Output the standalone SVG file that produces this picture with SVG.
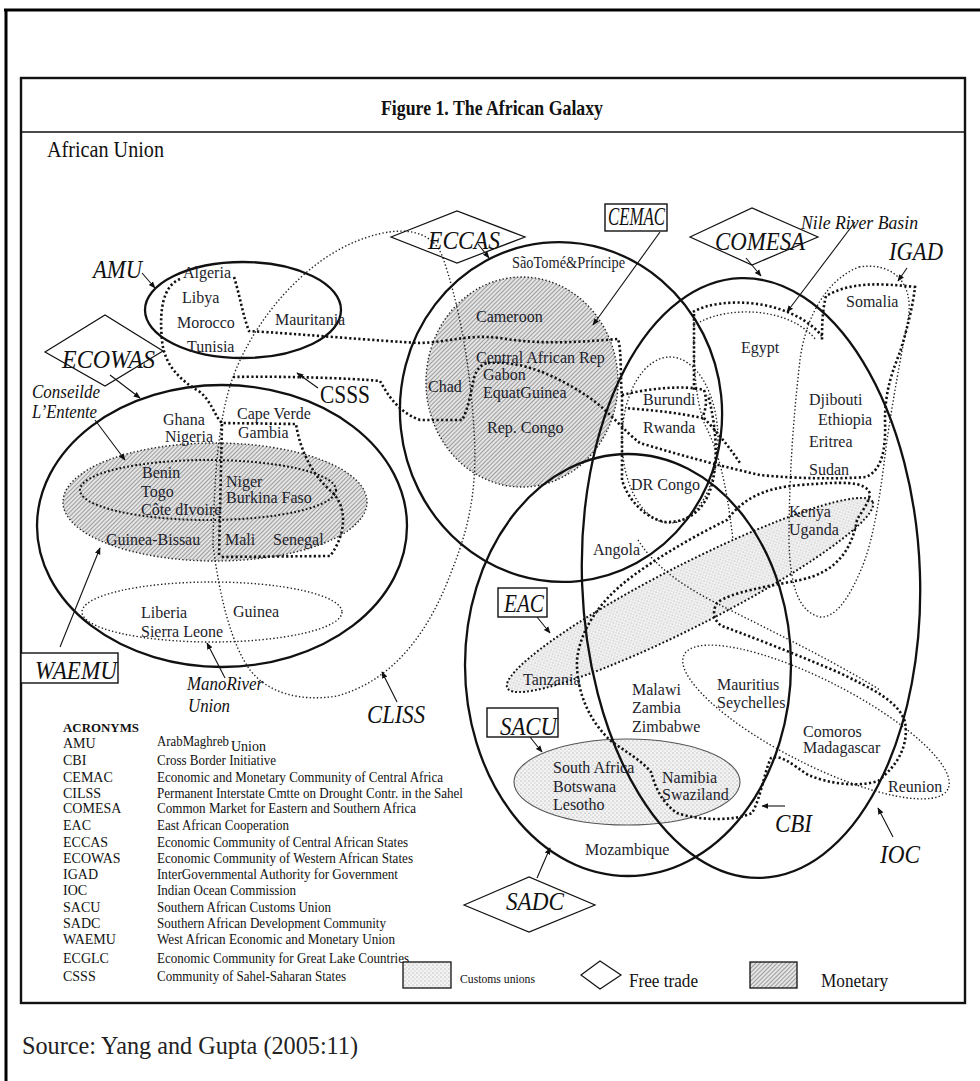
<svg xmlns="http://www.w3.org/2000/svg" width="980" height="1081" viewBox="0 0 980 1081">
<defs>
<pattern id="hatch" width="3" height="3" patternUnits="userSpaceOnUse" patternTransform="rotate(45)">
<rect width="3" height="3" fill="#e4e4e4"/>
<line x1="0.5" y1="0" x2="0.5" y2="3" stroke="#858585" stroke-width="0.75"/>
</pattern>
<pattern id="dots" width="4" height="4" patternUnits="userSpaceOnUse">
<rect width="4" height="4" fill="#f3f3f3"/>
<circle cx="1" cy="1" r="0.55" fill="#8a8a8a"/>
<circle cx="3" cy="3" r="0.5" fill="#a8a8a8"/>
</pattern>
<marker id="ah" viewBox="0 0 10 10" refX="9" refY="5" markerWidth="7" markerHeight="7" orient="auto" markerUnits="userSpaceOnUse">
<path d="M0,1 L10,5 L0,9 z" fill="#111"/>
</marker>
</defs>
<style>
.solid{fill:none;stroke:#111;stroke-width:2.3}
.td{fill:none;stroke:#111;stroke-width:2.6;stroke-dasharray:2.2 2.4}
.tm{fill:none;stroke:#111;stroke-width:2;stroke-dasharray:1.8 2.2}
.tn{fill:none;stroke:#222;stroke-width:1.4;stroke-dasharray:1.4 2.2}
.zb{stroke:#222;stroke-width:1.4;stroke-dasharray:1.4 2.2}
.zm{stroke:#111;stroke-width:2;stroke-dasharray:1.8 2.2}
.ar{fill:none;stroke:#111;stroke-width:1.1;marker-end:url(#ah)}
.dia{fill:none;stroke:#111;stroke-width:1.2}
.box{fill:#fff;stroke:#111;stroke-width:1.4}
.c{font-family:"Liberation Serif","Times New Roman",serif;font-size:16px;fill:#1d1d2b}
.i{font-family:"Liberation Serif","Times New Roman",serif;font-style:italic;font-size:25px;fill:#111}
.is{font-family:"Liberation Serif","Times New Roman",serif;font-style:italic;font-size:18px;fill:#111}
.n{font-family:"Liberation Serif","Times New Roman",serif;font-size:25px;fill:#111}
.lg{font-family:"Liberation Serif","Times New Roman",serif;font-size:14px;fill:#111}
.lgs{font-family:"Liberation Serif","Times New Roman",serif;font-size:18px;fill:#111}
</style>

<g id="page-frame">
<line x1="4" y1="10" x2="980" y2="10" stroke="#000" stroke-width="3"/>
<line x1="6" y1="9" x2="6" y2="1081" stroke="#000" stroke-width="3"/>
<rect x="21" y="78" width="944" height="925" fill="none" stroke="#111" stroke-width="2.4"/>
<line x1="21" y1="132" x2="965" y2="132" stroke="#111" stroke-width="1.6"/>
<text x="381" y="115" font-family="Liberation Serif, serif" font-weight="bold" font-size="21" textLength="222" lengthAdjust="spacingAndGlyphs" fill="#111">Figure 1. The African Galaxy</text>
<text x="47" y="157" font-family="Liberation Serif, serif" font-size="24" textLength="117" lengthAdjust="spacingAndGlyphs" fill="#111">African Union</text>
</g>

<g id="shaded-zones">
<ellipse id="waemu-zone" cx="215" cy="502" rx="152" ry="59" fill="url(#hatch)" class="zb"/>
<ellipse id="cemac-zone" cx="522" cy="382" rx="96" ry="105" fill="url(#hatch)" class="zb"/>
<ellipse id="eac-zone" cx="690" cy="595" rx="205" ry="31" transform="rotate(-27 690 595)" fill="url(#dots)" class="zm"/>
<ellipse id="sacu-zone" cx="627" cy="782" rx="113" ry="43" fill="url(#dots)" stroke="#555" stroke-width="1.1"/>
</g>

<g id="groups-solid">
<ellipse id="amu" cx="243" cy="310" rx="98" ry="48" class="solid"/>
<ellipse id="ecowas" cx="222" cy="526" rx="185" ry="141" class="solid"/>
<ellipse id="eccas" cx="561" cy="412" rx="161" ry="170" transform="rotate(-6 561 412)" class="solid"/>
<ellipse id="comesa" cx="751" cy="578" rx="169" ry="300" transform="rotate(-2 751 578)" class="solid"/>
<ellipse id="sadc" cx="628" cy="665" rx="163" ry="211" class="solid"/>
</g>

<g id="connectors">
<path id="cliss" class="tn" d="M213,545 C214,480 218,420 232,380 C250,328 300,260 365,238 C400,226 432,228 443,258 C457,298 470,360 474,430 C478,490 468,530 452,570 C430,630 395,680 337,696 C300,702 268,693 250,670 C232,645 220,600 213,545 Z"/>
<ellipse id="mano" cx="212" cy="612" rx="130" ry="30" class="tn"/>
<ellipse id="entente" cx="208" cy="490" rx="128" ry="30" class="tm"/>
<ellipse id="ecglc-thin" cx="670" cy="440" rx="48" ry="83" class="tn"/>
<path id="igad-thin" class="tn" d="M859,267 C890,262 915,280 908,320 C900,360 893,400 887,440 C882,480 875,540 860,572 C848,600 835,618 820,617 C800,612 790,590 789,540 C789,480 793,420 800,360 C805,320 825,280 859,267 Z"/>
<path id="nile-thin" class="tn" d="M700,322 C730,306 790,307 816,340 M694,322 C693,360 695,400 705,425 C718,450 726,480 733,540"/>
<ellipse id="ioc" cx="816" cy="722" rx="148" ry="42" transform="rotate(27 816 722)" class="tn"/>
<path id="angola-thin" class="tn" d="M638,540 C660,575 700,595 730,610 C790,640 840,665 880,690"/>
<path id="csss-west" class="td" d="M180,279 C163,286 159,310 162,340 C164,365 180,380 200,392 C212,402 214,415 222,423 L296,424 C300,450 312,475 332,492 C348,508 346,535 330,556 L220,557"/>
<path id="csss-vert" class="td" d="M222,424 L219,557"/>
<path id="csss-north" class="td" d="M234,277 C240,296 243,316 249,331 C300,334 380,341 420,343 C450,342 468,334 500,338 C540,345 580,342 618,339 C622,352 620,380 622,395"/>
<path id="csss-south" class="td" d="M233,377 C280,376 350,378 380,381 C388,395 398,412 420,420 L462,420 C468,410 471,392 474,378 C477,368 482,364 488,363"/>
<path id="csss-east" class="td" d="M488,363 C525,360 560,378 590,398 C610,412 625,432 640,443 C680,455 720,466 760,475 C800,479 840,479 866,477 C882,470 886,450 885,420 C885,390 893,370 900,352 C907,330 913,305 915,287 C880,283 850,282 826,296 C822,312 822,328 822,340"/>
<path id="nile" class="td" d="M693,312 C720,296 790,298 822,336 M694,314 L694,390"/>
<path id="ecglc" class="td" d="M622,395 C650,388 685,385 704,390 C708,402 705,412 702,418 C675,412 648,410 625,408 M622,395 L622,480 C628,500 645,518 665,522 C690,523 707,508 713,480 C718,455 716,425 708,395 M704,418 C715,430 728,445 740,463"/>
<path id="cbi" class="td" d="M857,520 C852,548 838,572 800,580 C770,586 730,592 717,603 C711,613 715,622 722,626 C760,640 800,656 840,673 C870,688 898,700 905,722 C909,745 898,765 878,781 C855,788 828,783 808,775 C792,764 780,754 771,758 C764,772 761,798 752,813 C735,821 700,821 677,813 C661,802 655,786 651,772 C641,760 626,752 611,741 C590,722 576,692 577,660 C580,630 600,602 625,582 C650,562 690,538 727,520 C742,500 762,488 800,485 C840,482 866,480 870,494 C868,505 861,512 857,520 Z"/>
<path class="ar" d="M142,273 L155,288"/>
<path class="ar" d="M110,375 L140,398"/>
<path class="ar" d="M95,420 L125,460"/>
<path class="ar" d="M318,388 L297,373"/>
<path class="ar" d="M60,647 L100,548"/>
<path class="ar" d="M225,678 L207,643"/>
<path class="ar" d="M397,702 L382,672"/>
<path class="ar" d="M478,244 L489,258"/>
<path class="ar" d="M660,232 L593,325"/>
<path class="ar" d="M746,258 L761,276"/>
<path class="ar" d="M855,222 L787,312"/>
<path class="ar" d="M907,268 L898,281"/>
<path class="ar" d="M537,617 L550,633"/>
<path class="ar" d="M530,737 L542,752"/>
<path class="ar" d="M537,878 L550,848"/>
<path class="ar" d="M785,806 L762,806"/>
<path class="ar" d="M893,837 L878,808"/>
</g>

<g id="label-amu"><text class="i" x="93" y="278" textLength="49" lengthAdjust="spacingAndGlyphs">AMU</text></g>
<g id="label-ecowas"><polygon class="dia" points="45,352 105,315 163,351 105,386"/><text class="i" x="62" y="368" font-size="26" textLength="93" lengthAdjust="spacingAndGlyphs">ECOWAS</text></g>
<g id="label-conseil"><text class="is" x="32" y="398" textLength="68" lengthAdjust="spacingAndGlyphs">Conseilde</text><text class="is" x="32" y="418" textLength="65" lengthAdjust="spacingAndGlyphs">L’Entente</text></g>
<g id="label-csss"><text class="n" x="320" y="403" textLength="50" lengthAdjust="spacingAndGlyphs">CSSS</text></g>
<g id="label-waemu"><rect class="box" x="21" y="653" width="97" height="30"/><text class="i" x="35" y="679" font-size="26" textLength="82" lengthAdjust="spacingAndGlyphs">WAEMU</text></g>
<g id="label-mano"><text class="is" x="187" y="690" textLength="76" lengthAdjust="spacingAndGlyphs">ManoRiver</text><text class="is" x="188" y="712" textLength="42" lengthAdjust="spacingAndGlyphs">Union</text></g>
<g id="label-cliss"><text class="i" x="367" y="723" font-size="26" textLength="58" lengthAdjust="spacingAndGlyphs">CLISS</text></g>
<g id="label-eccas"><polygon class="dia" points="391,237 457,211 525,237 457,263"/><text class="i" x="428" y="249" textLength="72" lengthAdjust="spacingAndGlyphs">ECCAS</text></g>
<g id="label-cemac"><rect class="box" x="605" y="204" width="62" height="27"/><text class="i" x="608" y="225" font-size="22" textLength="57" lengthAdjust="spacingAndGlyphs">CEMAC</text></g>
<g id="label-comesa"><polygon class="dia" points="690,237 752,208 818,237 752,265"/><text class="i" x="715" y="250" textLength="90" lengthAdjust="spacingAndGlyphs">COMESA</text></g>
<g id="label-nile"><text class="is" x="801" y="229" font-size="17" textLength="117" lengthAdjust="spacingAndGlyphs">Nile River Basin</text></g>
<g id="label-igad"><text class="i" x="889" y="260" textLength="54" lengthAdjust="spacingAndGlyphs">IGAD</text></g>
<g id="label-eac"><rect class="box" x="498" y="588" width="49" height="29"/><text class="i" x="504" y="612" font-size="23" textLength="40" lengthAdjust="spacingAndGlyphs">EAC</text></g>
<g id="label-sacu"><rect class="box" x="487" y="708" width="71" height="29"/><text class="i" x="500" y="735" font-size="26" textLength="57" lengthAdjust="spacingAndGlyphs">SACU</text></g>
<g id="label-sadc"><polygon class="dia" points="464,905 529,877 595,905 529,932"/><text class="i" x="506" y="910" textLength="58" lengthAdjust="spacingAndGlyphs">SADC</text></g>
<g id="label-cbi"><text class="i" x="775" y="832" textLength="37" lengthAdjust="spacingAndGlyphs">CBI</text></g>
<g id="label-ioc"><text class="i" x="880" y="863" textLength="40" lengthAdjust="spacingAndGlyphs">IOC</text></g>

<g id="countries">
<text class="c" x="183" y="278">Algeria</text>
<text class="c" x="182" y="303">Libya</text>
<text class="c" x="177" y="328">Morocco</text>
<text class="c" x="187" y="352">Tunisia</text>
<text class="c" x="275" y="325">Mauritania</text>
<text class="c" x="163" y="425">Ghana</text>
<text class="c" x="165" y="442">Nigeria</text>
<text class="c" x="237" y="419">Cape Verde</text>
<text class="c" x="238" y="438">Gambia</text>
<text class="c" x="142" y="478">Benin</text>
<text class="c" x="141" y="497">Togo</text>
<text class="c" x="141" y="515">Côte dIvoire</text>
<text class="c" x="226" y="487">Niger</text>
<text class="c" x="226" y="503">Burkina Faso</text>
<text class="c" x="106" y="545">Guinea-Bissau</text>
<text class="c" x="225" y="545">Mali</text>
<text class="c" x="273" y="545">Senegal</text>
<text class="c" x="141" y="618">Liberia</text>
<text class="c" x="233" y="617">Guinea</text>
<text class="c" x="141" y="637">Sierra Leone</text>
<text class="c" x="512" y="268" textLength="113" lengthAdjust="spacingAndGlyphs">SãoTomé&amp;Príncipe</text>
<text class="c" x="476" y="322">Cameroon</text>
<text class="c" x="476" y="363">Central African Rep</text>
<text class="c" x="483" y="380">Gabon</text>
<text class="c" x="483" y="398">EquatGuinea</text>
<text class="c" x="428" y="392">Chad</text>
<text class="c" x="487" y="433">Rep. Congo</text>
<text class="c" x="741" y="353">Egypt</text>
<text class="c" x="846" y="307">Somalia</text>
<text class="c" x="643" y="405">Burundi</text>
<text class="c" x="643" y="433">Rwanda</text>
<text class="c" x="809" y="405">Djibouti</text>
<text class="c" x="818" y="425">Ethiopia</text>
<text class="c" x="809" y="447">Eritrea</text>
<text class="c" x="809" y="475">Sudan</text>
<text class="c" x="631" y="490">DR Congo</text>
<text class="c" x="789" y="517">Kenya</text>
<text class="c" x="789" y="535">Uganda</text>
<text class="c" x="593" y="555">Angola</text>
<text class="c" x="523" y="685">Tanzania</text>
<text class="c" x="632" y="695">Malawi</text>
<text class="c" x="632" y="713">Zambia</text>
<text class="c" x="632" y="732">Zimbabwe</text>
<text class="c" x="717" y="690">Mauritius</text>
<text class="c" x="717" y="708">Seychelles</text>
<text class="c" x="803" y="737">Comoros</text>
<text class="c" x="803" y="753">Madagascar</text>
<text class="c" x="553" y="773">South Africa</text>
<text class="c" x="553" y="792">Botswana</text>
<text class="c" x="553" y="810">Lesotho</text>
<text class="c" x="662" y="783">Namibia</text>
<text class="c" x="662" y="800">Swaziland</text>
<text class="c" x="888" y="792">Reunion</text>
<text class="c" x="585" y="855">Mozambique</text>
</g>

<g id="acronyms">
<text x="63" y="732" font-family="Liberation Serif, serif" font-weight="bold" font-size="12" textLength="76" lengthAdjust="spacingAndGlyphs" fill="#111">ACRONYMS</text>
<text class="lg" x="63" y="748">AMU</text><text class="lg" x="157" y="746" textLength="72" lengthAdjust="spacingAndGlyphs">ArabMaghreb</text><text class="lg" x="231" y="751">Union</text>
<text class="lg" x="63" y="765">CBI</text><text class="lg" x="157" y="765" textLength="119" lengthAdjust="spacingAndGlyphs">Cross Border Initiative</text>
<text class="lg" x="63" y="782">CEMAC</text><text class="lg" x="157" y="782" textLength="286" lengthAdjust="spacingAndGlyphs">Economic and Monetary Community of Central Africa</text>
<text class="lg" x="63" y="798">CILSS</text><text class="lg" x="157" y="798" textLength="306" lengthAdjust="spacingAndGlyphs">Permanent Interstate Cmtte on Drought Contr. in the Sahel</text>
<text class="lg" x="63" y="813">COMESA</text><text class="lg" x="157" y="813" textLength="259" lengthAdjust="spacingAndGlyphs">Common Market for Eastern and Southern Africa</text>
<text class="lg" x="63" y="830">EAC</text><text class="lg" x="157" y="830" textLength="132" lengthAdjust="spacingAndGlyphs">East African Cooperation</text>
<text class="lg" x="63" y="847">ECCAS</text><text class="lg" x="157" y="847" textLength="251" lengthAdjust="spacingAndGlyphs">Economic Community of Central African States</text>
<text class="lg" x="63" y="863">ECOWAS</text><text class="lg" x="157" y="863" textLength="256" lengthAdjust="spacingAndGlyphs">Economic Community of Western African States</text>
<text class="lg" x="63" y="879">IGAD</text><text class="lg" x="157" y="879" textLength="241" lengthAdjust="spacingAndGlyphs">InterGovernmental Authority for Government</text>
<text class="lg" x="63" y="895">IOC</text><text class="lg" x="157" y="895" textLength="139" lengthAdjust="spacingAndGlyphs">Indian Ocean Commission</text>
<text class="lg" x="63" y="912">SACU</text><text class="lg" x="157" y="912" textLength="174" lengthAdjust="spacingAndGlyphs">Southern African Customs Union</text>
<text class="lg" x="63" y="928">SADC</text><text class="lg" x="157" y="928" textLength="229" lengthAdjust="spacingAndGlyphs">Southern African Development Community</text>
<text class="lg" x="63" y="944">WAEMU</text><text class="lg" x="157" y="944" textLength="238" lengthAdjust="spacingAndGlyphs">West African Economic and Monetary Union</text>
<text class="lg" x="63" y="963">ECGLC</text><text class="lg" x="157" y="963" textLength="252" lengthAdjust="spacingAndGlyphs">Economic Community for Great Lake Countries</text>
<text class="lg" x="63" y="981">CSSS</text><text class="lg" x="157" y="981" textLength="189" lengthAdjust="spacingAndGlyphs">Community of Sahel-Saharan States</text>
</g>

<g id="legend">
<rect x="403" y="962" width="48" height="26" fill="url(#dots)" stroke="#111" stroke-width="1.3"/>
<text x="460" y="983" font-family="Liberation Serif, serif" font-size="12" textLength="75" lengthAdjust="spacingAndGlyphs" fill="#111">Customs unions</text>
<polygon class="dia" points="581,975 600,961 621,975 600,989"/>
<text class="lgs" x="629" y="987" textLength="69" lengthAdjust="spacingAndGlyphs">Free trade</text>
<rect x="750" y="962" width="47" height="26" fill="url(#hatch)" stroke="#111" stroke-width="1.3"/>
<text class="lgs" x="821" y="987" textLength="67" lengthAdjust="spacingAndGlyphs">Monetary</text>
</g>

<g id="source">
<text x="22" y="1054" font-family="Liberation Serif, serif" font-size="25" textLength="336" lengthAdjust="spacingAndGlyphs" fill="#222">Source: Yang and Gupta (2005:11)</text>
</g>
</svg>
